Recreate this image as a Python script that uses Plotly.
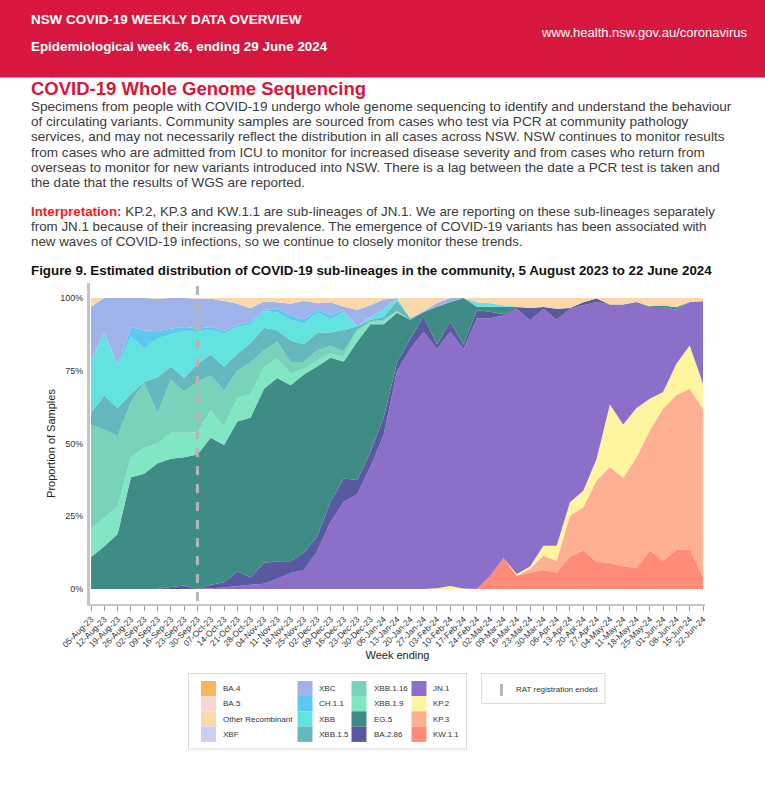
import plotly.graph_objects as go

# ---------------- data ----------------
weeks = ["05-Aug-23", "12-Aug-23", "19-Aug-23", "26-Aug-23", "02-Sep-23", "09-Sep-23", "16-Sep-23",
         "23-Sep-23", "30-Sep-23", "07-Oct-23", "14-Oct-23", "21-Oct-23", "28-Oct-23", "04-Nov-23",
         "11-Nov-23", "18-Nov-23", "25-Nov-23", "02-Dec-23", "09-Dec-23", "16-Dec-23", "23-Dec-23",
         "30-Dec-23", "06-Jan-24", "13-Jan-24", "20-Jan-24", "27-Jan-24", "03-Feb-24", "10-Feb-24",
         "17-Feb-24", "24-Feb-24", "02-Mar-24", "09-Mar-24", "16-Mar-24", "23-Mar-24", "30-Mar-24",
         "06-Apr-24", "13-Apr-24", "20-Apr-24", "27-Apr-24", "04-May-24", "11-May-24", "18-May-24",
         "25-May-24", "01-Jun-24", "08-Jun-24", "15-Jun-24", "22-Jun-24"]

# percentages per week (bottom of stack first)
kw_1_1 = [0]*30 + [4.5, 10.6, 4.6, 5.7, 6.5, 5.7, 11.2, 13.2, 9.4, 8.9, 7.8, 7.2, 13.2, 9.7, 13.4, 13.6, 4.2]
kp_3 = [0]*33 + [1.2, 5, 4, 14, 14.9, 27.9, 33, 30.4, 38.1, 41.3, 52.2, 53.3, 55.2, 57.7]
kp_2 = [0]*26 + [0.3, 1, 0.2, 0, 0, 0, 0.6, 0.8, 3.4, 5.2, 4.6, 5.7, 7.4, 21.5, 18.3, 16.9, 10.9, 5.8, 10.7, 14.9, 8.6]
jn_1 = [0, 0, 0, 0, 0, 0, 0, 0, 0, 0.3, 0.5, 1, 1.5, 1.8, 3.5, 5.5, 6.5, 13, 23, 30, 32.5, 42, 53, 75,
        82.5, 88.4, 82.2, 87.4, 82.3, 93, 88.5, 83.4, 91.1, 84.6, 81.4, 77.6, 66.5, 63.7, 53.9, 34.4, 41.3,
        36.4, 31.5, 29.2, 18.6, 14.9, 28.4]
ba_2_86 = [0, 0, 0, 0, 0, 0, 0.7, 1.2, 0, 1.2, 1.8, 5, 2.5, 7.2, 6, 4, 6, 5, 7, 8, 5, 5, 6, 3,
           3.5, 5.2, 1.5, 3.4, 1.5, 2.8, 2.3, 0.5, 0.5, 4.3, 0.6, 3.8, 0.3, 1, 1.2, 0, 0, 0, 0, 0, 0, 0, 0]
eg_5 = [10.9, 14.7, 18.9, 38.4, 39.8, 43.2, 44.1, 44.1, 46.2, 50.5, 47.2, 51.6, 54.9, 59.8, 63, 60.5,
        61.2, 58.5, 49.5, 40.2, 47.5, 44, 32, 17, 6.5, 1.6, 13, 6.8, 16, 1.2, 1.7, 2.5, 0.2, 0, 0, 0,
        0, 0, 0, 0, 0, 0, 0.3, 0.5, 0.8, 0, 0]
xbb_1_9 = [9.7, 9.7, 9.5, 6.9, 8.9, 6.7, 8.9, 8.4, 7.7, 9.4, 6.3, 8.1, 8.2, 7.5, 6.6, 4, 2, 2, 1.3,
           1.8, 3.5, 0.5, 1, 0.3] + [0]*23
xbb_1_16 = [35.8, 30.3, 24.1, 18.9, 22.4, 10.5, 18.2, 14.2, 17.2, 12, 12.4, 9.4, 10.7, 5.7, 5.8, 4,
            2.3, 3.5, 2.7, 1.8, 0.7, 0.5, 0.5, 0.3] + [0]*23
xbb_1_5 = [4.2, 11.8, 9.7, 2.9, 0.5, 12.4, 4.6, 4.6, 6.3, 7.2, 8.3, 5.7, 6.7, 7.8, 4, 7.4, 6.1, 6,
           4.6, 7.3, 1.1, 0.5, 1, 3.5, 0.5] + [0]*22
xbb = [17.6, 21.2, 14.3, 19.7, 11.5, 13.2, 11, 16.1, 10.9, 8.5, 11.2, 9.2, 6.3, 5.7, 6.1, 7.1, 7.1,
       7, 4.6, 6.1, 0, 1, 2.5, 1, 0, 0, 0, 0, 0, 1.5, 1.2, 0.5] + [0]*15
ch_1_1 = [0.3, 0.8, 0.5, 3.2, 6.3, 2.6, 2, 1.4, 1.2, 0.9, 1, 0.8, 1, 0.5, 1.5, 1.5, 1.5, 1, 1.5,
          0.5] + [0]*27
xbc = [18.5, 11.5, 23, 10, 11.1, 11.1, 10.5, 10, 10.2, 9.7, 10.3, 7.2, 4.7, 2.8, 2, 4, 6.3, 2.2,
       4.3, 1.3, 5.7, 4, 3.5, 0, 0, 0.3, 1.3, 1.4, 0] + [0]*18
xbf = [0]*47
other_recombinant = [3, 0, 0, 0, 0, 0.3, 0, 0, 0.3, 0.3, 1, 2, 3.5, 1.2, 1.5, 2, 1, 1.8, 1.5, 3, 4,
                     2.5, 0.5, 0, 7, 4.5, 1.7, 0, 0, 1.5, 1.8, 2.5, 3, 3.4, 3.1, 3.7, 3.4, 1.5, 0.2,
                     2.2, 2.2, 1.4, 2.8, 2.6, 3.2, 1.4, 1.1]
ba_5 = [0]*47
ba_4 = [0]*47

lineage_names = ["KW.1.1", "KP.3", "KP.2", "JN.1", "BA.2.86", "EG.5", "XBB.1.9", "XBB.1.16",
                 "XBB.1.5", "XBB", "CH.1.1", "XBC", "XBF", "Other Recombinant", "BA.5", "BA.4"]
lineage_values = [kw_1_1, kp_3, kp_2, jn_1, ba_2_86, eg_5, xbb_1_9, xbb_1_16,
                  xbb_1_5, xbb, ch_1_1, xbc, xbf, other_recombinant, ba_5, ba_4]
lineage_colors = ["#FF8B78", "#FFB093", "#FFF59E", "#8B6FC8", "#5A58A0", "#3F8B86", "#80E6C4",
                  "#79D3BB", "#64B8BE", "#62E3DF", "#5DC8F0", "#9FB3EA", "#CBCEF1", "#F9D9AA",
                  "#F6D6D0", "#F4B75B"]

rat_end_week = "30-Sep-23"

# ---------------- layout helpers ----------------
W, H = 765, 789
L, R, T, B = 90, 60, 283, 185
PW, PH = W - L - R, H - T - B
FONT = "Liberation Sans, Arial, sans-serif"


def px(x):
    return (x - L) / PW


def py(y):
    return (H - B - y) / PH


fig = go.Figure()
for name, vals, col in zip(lineage_names, lineage_values, lineage_colors):
    fig.add_trace(go.Scatter(x=weeks, y=vals, name=name, mode="none", stackgroup="one",
                             groupnorm="fraction", fillcolor=col, showlegend=False,
                             hoverinfo="skip"))

shapes = []
annotations = []

# header band
shapes.append(dict(type="rect", xref="paper", yref="paper", x0=px(-2), x1=px(W + 2), y0=py(77.5), y1=py(-2),
                   fillcolor="#D7173E", line=dict(width=0), layer="below"))


def txt(x, y, s, size=13, color="#3B3B3B", family=FONT, anchor="left"):
    annotations.append(dict(xref="paper", yref="paper", x=px(x), y=py(y), text=s, showarrow=False,
                            xanchor=anchor, yanchor="middle", borderpad=0,
                            font=dict(size=size, color=color, family=family)))


txt(30, 19.5, "<b>NSW COVID-19 WEEKLY DATA OVERVIEW</b>", 13.4, "white")
txt(30, 46, "<b>Epidemiological week 26, ending 29 June 2024</b>", 13.4, "white")
txt(748, 32, "www.health.nsw.gov.au/coronavirus", 13, "white", anchor="right")

txt(30, 88.5, "<b>COVID-19 Whole Genome Sequencing</b>", 18.5, "#D6163C")

body = [
    "Specimens from people with COVID-19 undergo whole genome sequencing to identify and understand the behaviour",
    "of circulating variants. Community samples are sourced from cases who test via PCR at community pathology",
    "services, and may not necessarily reflect the distribution in all cases across NSW. NSW continues to monitor results",
    "from cases who are admitted from ICU to monitor for increased disease severity and from cases who return from",
    "overseas to monitor for new variants introduced into NSW. There is a lag between the date a PCR test is taken and",
    "the date that the results of WGS are reported.",
]
for i, line in enumerate(body):
    txt(30, 106.2 + i * 15.3, line, 13.55)

interp = [
    "<b><span style='color:#EE1C1C'>Interpretation:</span></b> KP.2, KP.3 and KW.1.1 are sub-lineages of JN.1. We are reporting on these sub-lineages separately",
    "from JN.1 because of their increasing prevalence. The emergence of COVID-19 variants has been associated with",
    "new waves of COVID-19 infections, so we continue to closely monitor these trends.",
]
for i, line in enumerate(interp):
    txt(30, 211.2 + i * 15, line, 13.37)

txt(30, 270, "<b>Figure 9. Estimated distribution of COVID-19 sub-lineages in the community, 5 August 2023 to 22 June 2024</b>",
    13.35, "#111111")

# RAT registration ended marker
shapes.append(dict(type="line", xref="x", yref="paper", x0=rat_end_week, x1=rat_end_week, y0=py(286), y1=py(604),
                   line=dict(color="#B5B5B5", width=3, dash="dash"), layer="above"))

# legend (manual, column-major like the reference)
legend_order = list(reversed(list(zip(lineage_names, lineage_colors))))
col_sw_x = [201, 297.5, 351.5, 411.5]
col_tx_x = [221.5, 317.5, 373, 432]
row_top = [681, 696, 711.3, 726.6]
shapes.append(dict(type="rect", xref="paper", yref="paper", x0=px(188.5), x1=px(466.5), y0=py(749), y1=py(673.5),
                   line=dict(color="#DADADA", width=1), fillcolor="rgba(0,0,0,0)"))
for k, (name, col) in enumerate(legend_order):
    c, r = divmod(k, 4)
    shapes.append(dict(type="rect", xref="paper", yref="paper", x0=px(col_sw_x[c]), x1=px(col_sw_x[c] + 15),
                       y0=py(row_top[r] + 15.3), y1=py(row_top[r]), fillcolor=col, line=dict(width=0)))
    txt(col_tx_x[c], row_top[r] + 7.8, name, 8, "#333333")

shapes.append(dict(type="rect", xref="paper", yref="paper", x0=px(481.5), x1=px(605), y0=py(703.5), y1=py(673.5),
                   line=dict(color="#DADADA", width=1), fillcolor="rgba(0,0,0,0)"))
shapes.append(dict(type="line", xref="paper", yref="paper", x0=px(501.5), x1=px(501.5), y0=py(696), y1=py(684),
                   line=dict(color="#B5B5B5", width=3)))
txt(514.5, 689, "RAT registration ended", 8, "#333333")

fig.update_layout(
    width=W, height=H,
    margin=dict(l=L, r=R, t=T, b=B, pad=0),
    paper_bgcolor="white", plot_bgcolor="white",
    font=dict(family=FONT, color="#333333"),
    showlegend=False,
    shapes=shapes, annotations=annotations,
    xaxis=dict(type="category", range=[-0.075, 46.15], showline=True, linecolor="#C8C8C8", linewidth=2,
               ticks="outside", ticklen=5, tickcolor="#9A9A9A", tickwidth=1, tickangle=-45,
               tickfont=dict(size=8.5, color="#333333"), showgrid=False, zeroline=False,
               title=dict(text="Week ending", font=dict(size=11, color="#222222"), standoff=2)),
    yaxis=dict(range=[-0.0515, 1.0515], tickvals=[0, 0.25, 0.5, 0.75, 1], tickformat=".0%",
               showline=True, linecolor="#C4C4C4", linewidth=3, ticks="", showgrid=False, zeroline=False,
               ticklabelstandoff=2, tickfont=dict(size=9, color="#333333"),
               title=dict(text="Proportion of Samples", font=dict(size=11, color="#222222"), standoff=3)),
)

fig.write_html("out.html", config={"displayModeBar": False},
               post_script="document.body.style.margin='0px';document.body.style.overflow='hidden';")
